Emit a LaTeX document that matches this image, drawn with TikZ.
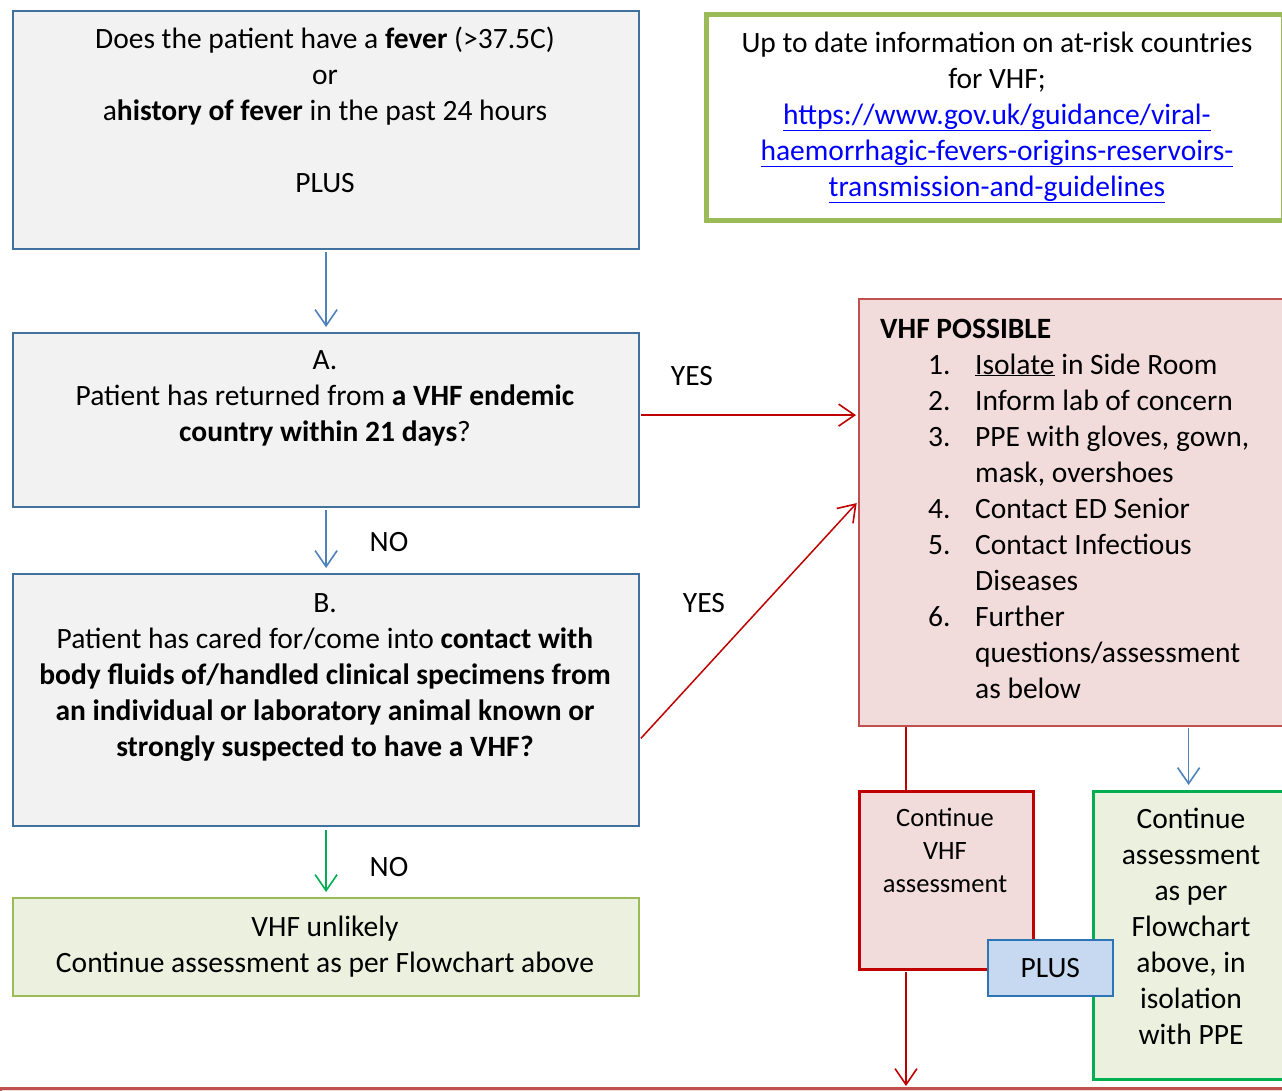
\documentclass[tikz,border=0pt]{standalone}
\usepackage{fontspec}
\setmainfont{Carlito}
\usetikzlibrary{arrows.meta,calc}
\definecolor{bborder}{HTML}{41719C}
\definecolor{grayfill}{HTML}{F2F2F2}
\definecolor{olivegreen}{HTML}{9BBB59}
\definecolor{lightgreen}{HTML}{EBF1DE}
\definecolor{pinkfill}{HTML}{F2DCDB}
\definecolor{redborder}{HTML}{C0504D}
\definecolor{darkred}{HTML}{C00000}
\definecolor{brightgreen}{HTML}{00B050}
\definecolor{arrowblue}{HTML}{4F81BD}
\definecolor{plusfill}{HTML}{C6D9F1}
\definecolor{plusborder}{HTML}{2E75B6}
\definecolor{linkblue}{HTML}{0000FF}
\tikzset{
  box/.style={draw, rectangle, inner sep=0pt, anchor=north west},
  qbox/.style={box, draw=bborder, fill=grayfill, line width=2.2pt},
  txt/.style={inner sep=0pt, anchor=base},
  barb/.style={-{Straight Barb[length=16pt,width=22pt,line width=1.6pt]}, line width=1.5pt},
  bluearrow/.style={barb, draw=arrowblue},
  redarrow/.style={barb, draw=darkred},
  greenarrow/.style={barb, draw=brightgreen},
}
\newcommand\ctab[1]{\begin{tabular}[t]{@{}c@{}}#1\end{tabular}}
\newcommand\lnk[1]{\textcolor{linkblue}{\underline{#1}}}
\begin{document}
\begin{tikzpicture}[x=1pt,y=-1pt, every node/.style={font=\fontsize{29.5}{36}\selectfont}]
\useasboundingbox (0,0) rectangle (1282,1090);
\clip (0,0) rectangle (1282,1090);
\fill[white] (0,0) rectangle (1282,1090);

% boxes
\node[qbox, minimum width=626pt, minimum height=238pt] (q) at (12,10) {};
\node[qbox, minimum width=626pt, minimum height=174pt] (a) at (12,332) {};
\node[qbox, minimum width=626pt, minimum height=252pt] (b) at (12,573) {};
\node[box, draw=olivegreen, fill=lightgreen, line width=2.2pt, minimum width=626pt, minimum height=98pt] (unl) at (12,897) {};
\node[box, draw=olivegreen, fill=white, line width=4.5pt, minimum width=577pt, minimum height=206pt] (info) at (704,12) {};
\node[box, draw=redborder, fill=pinkfill, line width=2.2pt, minimum width=424pt, minimum height=427pt] (poss) at (858,298) {};
\node[box, draw=darkred, fill=pinkfill, line width=3.2pt, minimum width=174pt, minimum height=178pt] (cont) at (858,790) {};
\node[box, draw=brightgreen, fill=lightgreen, line width=3.2pt, minimum width=190pt, minimum height=288pt] (iso) at (1092,790) {};
\node[box, draw=plusborder, fill=plusfill, line width=1.5pt, minimum width=125pt, minimum height=56pt] (plus) at (987,939) {};
\node[box, draw=redborder, fill=pinkfill, line width=3pt, minimum width=1284pt, minimum height=120pt] (bot) at (-1,1087) {};

% texts
\node[txt] at (325,48) {\ctab{Does the patient have a \textbf{fever} (>37.5C)\\ or\\ a\textbf{history of fever} in the past 24 hours\\ \\ PLUS}};
\node[txt] at (325,369) {\ctab{A.\\ Patient has returned from \textbf{a VHF endemic}\\ \textbf{country within 21 days}?}};
\node[txt] at (325,612) {\ctab{B.\\ Patient has cared for/come into \textbf{contact with}\\ \textbf{body fluids of/handled clinical specimens from}\\ \textbf{an individual or laboratory animal known or}\\ \textbf{strongly suspected to have a VHF?}}};
\node[txt] at (325,936) {\ctab{VHF unlikely\\ Continue assessment as per Flowchart above}};
\node[txt] at (997,52) {\ctab{Up to date information on at-risk countries\\ for VHF;\\ \lnk{https://www.gov.uk/guidance/viral-}\\ \lnk{haemorrhagic-fevers-origins-reservoirs-}\\ \lnk{transmission-and-guidelines}}};
\node[inner sep=0pt, anchor=base west] at (880,338) {\textbf{VHF POSSIBLE}};
\node[inner sep=0pt, anchor=base west] at (928,374) {\begin{tabular}[t]{@{}p{47pt}@{}l@{}}
1. & \underline{Isolate} in Side Room\\
2. & Inform lab of concern\\
3. & PPE with gloves, gown,\\
   & mask, overshoes\\
4. & Contact ED Senior\\
5. & Contact Infectious\\
   & Diseases\\
6. & Further\\
   & questions/assessment\\
   & as below
\end{tabular}};
\node[txt, font=\fontsize{26.5}{33}\selectfont] at (945,826) {\ctab{Continue\\ VHF\\ assessment}};
\node[txt] at (1191,828) {\ctab{Continue\\ assessment\\ as per\\ Flowchart\\ above, in\\ isolation\\ with PPE}};
\node[txt] at (plus.center) [yshift=-10pt] {PLUS};

% labels
\node[txt] (yes1) at (692,385) {YES};
\node[txt] (yes2) at (704,612) {YES};
\node[txt] (no1) at (389,551) {NO};
\node[txt] (no2) at (389,876) {NO};

% connectors
\draw[bluearrow, shorten <=2pt, shorten >=5pt] (q.south) -- (a.north);
\draw[bluearrow, shorten <=2pt, shorten >=5pt] (a.south) -- (b.north);
\draw[greenarrow, shorten <=3pt, shorten >=5pt] (b.south) -- (unl.north);
\draw[redarrow, shorten <=1pt, shorten >=2pt] ([yshift=5pt]a.east) -- ([yshift=5pt]a.east -| poss.west);
\draw[redarrow, shorten <=1pt, shorten >=2pt] ([yshift=-39pt]b.east) -- ([yshift=11pt]poss.west);
\draw[darkred, line width=1.5pt] ([xshift=48pt]poss.south west) -- ([xshift=48pt]cont.north west);
\draw[bluearrow, shorten <=1pt, shorten >=5pt] (iso.north |- poss.south) -- (iso.north);
\draw[redarrow, shorten <=1pt, shorten >=1pt] ([xshift=48pt]cont.south west) -- ([xshift=48pt]cont.south west |- bot.north);
\end{tikzpicture}
\end{document}
